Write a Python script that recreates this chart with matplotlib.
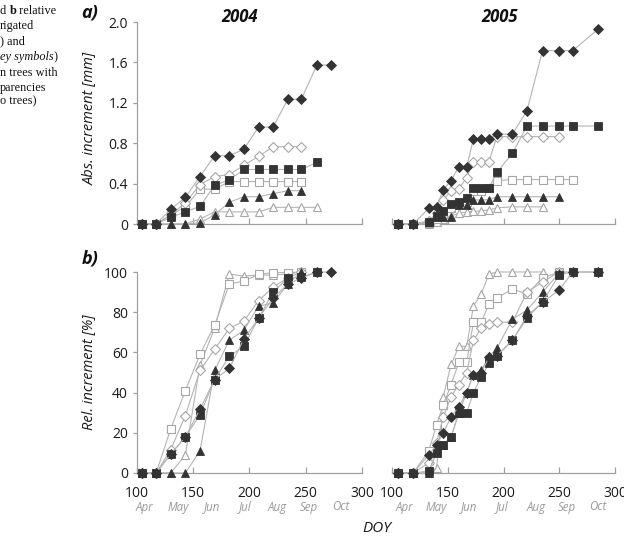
import matplotlib
matplotlib.use("Agg")
import matplotlib.pyplot as plt
from matplotlib.transforms import blended_transform_factory

# ---------------- data ----------------
doy_2004 = [104, 117, 130, 143, 156, 169, 182, 195, 208, 221, 234, 246, 260, 272]
doy_2005 = [105, 119, 133, 140, 146, 153, 160, 167, 173, 180, 187, 194, 208, 221, 235, 250, 262, 285]

# absolute increment [mm], 2004
abs04_fdiamond = [0, 0, 0.146, 0.264, 0.47, 0.676, 0.676, 0.74, 0.96, 0.96, 1.235, 1.235, 1.574, 1.574]
abs04_fsquare = [0, 0, 0.066, 0.12, 0.175, 0.383, 0.436, 0.54, 0.54, 0.54, 0.54, 0.54, 0.61]
abs04_ftriangle = [0, 0, 0, 0, 0.01, 0.09, 0.215, 0.27, 0.27, 0.30, 0.33, 0.33]
abs04_odiamond = [0, 0, 0.09, 0.21, 0.39, 0.47, 0.49, 0.58, 0.67, 0.765, 0.765, 0.765]
abs04_osquare = [0, 0, 0.09, 0.17, 0.345, 0.345, 0.42, 0.42, 0.42, 0.42, 0.42, 0.42]
abs04_otriangle = [0, 0, 0, 0, 0.05, 0.12, 0.12, 0.12, 0.12, 0.165, 0.165, 0.165, 0.165]

# relative increment [%], 2004
rel04_fdiamond = [0, 0, 9.4, 18, 31.7, 46.5, 52, 66.7, 77, 87, 94, 97, 100, 100]
rel04_fsquare = [0, 0, 9.4, 18, 29, 46.5, 58, 63, 77, 90, 97, 97.5, 100]
rel04_ftriangle = [0, 0, 0, 0, 11, 51, 66, 71, 83, 84.6, 94, 100]
rel04_odiamond = [0, 0, 11.6, 28.6, 51, 61.5, 72, 75.6, 85.6, 92.6, 97, 100]
rel04_osquare = [0, 0, 22, 41, 59, 73.5, 94, 95.5, 98.8, 99.7, 99.7, 100]
rel04_otriangle = [0, 0, 0, 9, 53.7, 72, 99, 98, 98.5, 98.5, 99, 100]

# absolute increment [mm], 2005
abs05_fdiamond = [0, 0, 0.155, 0.17, 0.34, 0.43, 0.567, 0.567, 0.84, 0.84, 0.84, 0.89, 0.89, 1.12, 1.716, 1.716, 1.716, 1.93]
abs05_fsquare = [0, 0, 0.02, 0.08, 0.13, 0.195, 0.22, 0.254, 0.36, 0.36, 0.36, 0.51, 0.70, 0.97, 0.97, 0.97, 0.97, 0.97]
abs05_ftriangle = [0, 0, 0.02, 0.066, 0.066, 0.072, 0.19, 0.19, 0.238, 0.238, 0.24, 0.27, 0.27, 0.27, 0.27, 0.27]
abs05_odiamond = [0, 0, 0.03, 0.11, 0.24, 0.33, 0.35, 0.46, 0.617, 0.617, 0.617, 0.865, 0.865, 0.865, 0.865, 0.865]
abs05_osquare = [0, 0, 0.01, 0.05, 0.1, 0.16, 0.2, 0.22, 0.33, 0.33, 0.36, 0.43, 0.44, 0.44, 0.44, 0.44, 0.44]
abs05_otriangle = [0, 0, 0, 0.02, 0.05, 0.08, 0.106, 0.12, 0.125, 0.13, 0.14, 0.16, 0.17, 0.17, 0.17]

# relative increment [%], 2005
rel05_fdiamond = [0, 0, 9, 14, 20, 28, 33, 40, 49, 50, 57.6, 58.4, 66, 78, 85, 91, 100, 100]
rel05_fsquare = [0, 0, 1, 10, 14, 18, 30, 30, 40, 47.7, 54.6, 58, 66, 77, 85, 98.7, 100, 100]
rel05_ftriangle = [0, 0, 0, 11.5, 14, 18, 30, 40, 49, 51, 58, 62, 76.5, 81, 90, 99.5]
rel05_odiamond = [0, 0, 5, 15, 28, 38, 44, 50, 66, 72, 74, 75, 75, 90, 95, 100]
rel05_osquare = [0, 0, 11, 24, 34, 44, 55, 55, 75, 75, 84, 87, 91.6, 89, 97, 100, 100]
rel05_otriangle = [0, 0, 0, 2.5, 38, 54, 63, 63, 83, 89, 99, 100, 100, 100, 100]

x_ticks = [100, 150, 200, 250, 300]
abs_ticks = [0, 0.4, 0.8, 1.2, 1.6, 2.0]
abs_tick_labels = ["0", "0.4", "0.8", "1.2", "1.6", "2.0"]
rel_ticks = [0, 20, 40, 60, 80, 100]
rel_tick_labels = ["0", "20", "40", "60", "80", "100"]
months = ["Apr", "May", "Jun", "Jul", "Aug", "Sep", "Oct"]
month_pos_left = [107, 137, 167, 196, 225, 253, 281]
month_pos_right = [111, 140, 169, 199, 229, 257, 285]

# ---------------- style ----------------
FONT = "Open Sans"
LINE = "#b4b4b4"
DARK = "#333333"
OPEN_EDGE = "#a6a6a6"
SPINE = "#a0a0a0"

W, H = 624, 536
fig = plt.figure(figsize=(W / 100, H / 100), dpi=100)


def px_axes(x0, x1, y0, y1):
    return fig.add_axes([x0 / W, 1 - y1 / H, (x1 - x0) / W, (y1 - y0) / H])


ax_a04 = px_axes(137, 362, 22, 224)
ax_a05 = px_axes(392, 615, 22, 224)
ax_r04 = px_axes(137, 362, 272, 473)
ax_r05 = px_axes(392, 615, 272, 473)


def draw_series(ax, doy, series):
    for vals, marker, filled in series:
        x = doy[:len(vals)]
        if filled:
            ms = 4.8 if marker == "D" else 5.5
            ax.plot(x, vals, color=LINE, lw=0.8, marker=marker, ms=ms,
                    mfc=DARK, mec=DARK, mew=0.6, clip_on=False, zorder=4)
        else:
            ms = 5.1 if marker == "D" else 5.9
            ax.plot(x, vals, color=LINE, lw=0.8, marker=marker, ms=ms,
                    mfc="white", mec=OPEN_EDGE, mew=0.8, clip_on=False, zorder=3)


draw_series(ax_a04, doy_2004, [
    (abs04_otriangle, "^", False), (abs04_osquare, "s", False), (abs04_odiamond, "D", False),
    (abs04_ftriangle, "^", True), (abs04_fsquare, "s", True), (abs04_fdiamond, "D", True)])
draw_series(ax_a05, doy_2005, [
    (abs05_otriangle, "^", False), (abs05_osquare, "s", False), (abs05_odiamond, "D", False),
    (abs05_ftriangle, "^", True), (abs05_fsquare, "s", True), (abs05_fdiamond, "D", True)])
draw_series(ax_r04, doy_2004, [
    (rel04_otriangle, "^", False), (rel04_osquare, "s", False), (rel04_odiamond, "D", False),
    (rel04_ftriangle, "^", True), (rel04_fsquare, "s", True), (rel04_fdiamond, "D", True)])
draw_series(ax_r05, doy_2005, [
    (rel05_otriangle, "^", False), (rel05_osquare, "s", False), (rel05_odiamond, "D", False),
    (rel05_ftriangle, "^", True), (rel05_fsquare, "s", True), (rel05_fdiamond, "D", True)])

for ax in (ax_a04, ax_a05, ax_r04, ax_r05):
    ax.set_xlim(100, 300)
    ax.set_xticks(x_ticks)
    for s in ("top", "right"):
        ax.spines[s].set_visible(False)
    ax.spines["bottom"].set_color(SPINE)
    ax.spines["left"].set_color(SPINE)
    ax.spines["bottom"].set_linewidth(0.9)
    ax.spines["left"].set_linewidth(0.9)
    ax.tick_params(axis="x", direction="in", length=4, color=SPINE, width=0.9,
                   labelsize=10, pad=9.5, labelcolor="#1a1a1a")
    ax.tick_params(axis="y", direction="out", length=3, color=SPINE, width=0.9,
                   labelsize=10, pad=3.5, labelcolor="#1a1a1a")
    ax.patch.set_alpha(0)

for ax in (ax_a04, ax_a05):
    ax.set_ylim(0, 2.0)
    ax.tick_params(axis="x", labelbottom=False)
for ax in (ax_r04, ax_r05):
    ax.set_ylim(0, 100)

ax_a04.set_yticks(abs_ticks, abs_tick_labels)
ax_r04.set_yticks(rel_ticks, rel_tick_labels)
for ax in (ax_a05, ax_r05):
    ax.spines["left"].set_visible(False)
    ax.set_yticks([])

for ax in (ax_a04, ax_a05, ax_r04, ax_r05):
    for lab in ax.get_xticklabels() + ax.get_yticklabels():
        lab.set_fontfamily(FONT)

# month labels
for ax, pos in ((ax_r04, month_pos_left), (ax_r05, month_pos_right)):
    tr = blended_transform_factory(ax.transData, fig.transFigure)
    for m, p in zip(months, pos):
        ax.text(p, 1 - 507 / H, m, transform=tr, ha="center", va="center",
                fontsize=8.3, style="italic", color="#9a9a9a", family=FONT)

# titles and labels
fig.text(240 / W, 1 - 17 / H, "2004", ha="center", va="center", fontsize=12,
         fontweight="bold", style="italic", family=FONT, color="#111111")
fig.text(500 / W, 1 - 17 / H, "2005", ha="center", va="center", fontsize=12,
         fontweight="bold", style="italic", family=FONT, color="#111111")
fig.text(90 / W, 1 - 13 / H, "a)", ha="center", va="center", fontsize=13,
         fontweight="bold", style="italic", family=FONT, color="#111111")
fig.text(90 / W, 1 - 258 / H, "b)", ha="center", va="center", fontsize=13,
         fontweight="bold", style="italic", family=FONT, color="#111111")
fig.text(89 / W, 1 - 118 / H, "Abs. increment [mm]", ha="center", va="center",
         rotation=90, fontsize=10.5, style="italic", family=FONT, color="#1a1a1a")
fig.text(89 / W, 1 - 372 / H, "Rel. increment [%]", ha="center", va="center",
         rotation=90, fontsize=10.5, style="italic", family=FONT, color="#1a1a1a")
fig.text(377 / W, 1 - 528 / H, "DOY", ha="center", va="center", fontsize=11,
         style="italic", family=FONT, color="#1a1a1a")

# cropped caption fragment at left (pieces placed one after another)
renderer = fig.canvas.get_renderer()
CAP = dict(family="Liberation Serif", fontsize=8.8, va="center", ha="left", color="#111111")
caption_lines = [
    (11.5, [("d ", {}), ("b", {"fontweight": "bold"}), (" relative", {})]),
    (26.5, [("rigated", {})]),
    (41.5, [(") and", {})]),
    (57.0, [("ey symbols", {"style": "italic"}), (")", {})]),
    (72.5, [("n trees with", {})]),
    (87.5, [("parencies", {})]),
    (101.5, [("o trees)", {})]),
]
for ypx, pieces in caption_lines:
    xpx = 0.0
    for s, extra in pieces:
        t = fig.text(xpx / W, 1 - ypx / H, s, **CAP, **extra)
        bb = t.get_window_extent(renderer=renderer)
        xpx += bb.width

fig.savefig("out.png", dpi=100)
